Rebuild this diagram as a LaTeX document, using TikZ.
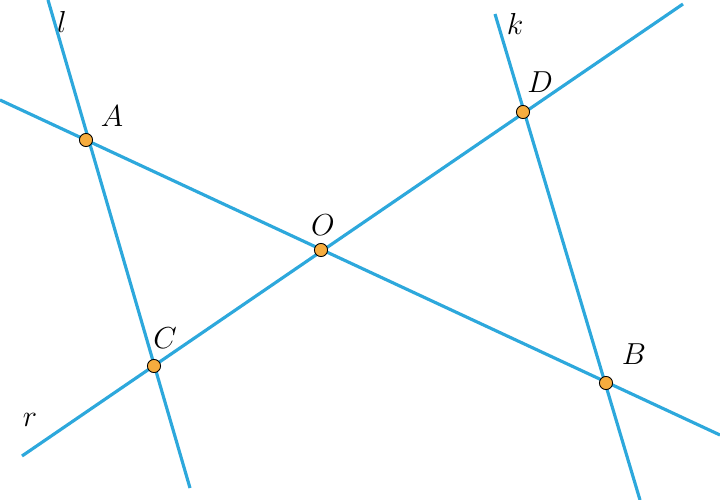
\documentclass[tikz,border=0pt]{standalone}
\usepackage{amsfonts, amsmath, amssymb}
\definecolor{lineblue}{RGB}{45,168,220}
\definecolor{ptorange}{RGB}{246,172,62}
\tikzset{
  ln/.style={lineblue, line width=1.8pt},
  pt/.style={circle, fill=ptorange, draw=black, line width=0.5pt, inner sep=0pt, minimum size=7.5pt}
}
\begin{document}
\begin{tikzpicture}[x=0.02cm, y=-0.02cm]
            \useasboundingbox (0,0) rectangle (720,500);

            \coordinate (l1) at (48,0);
            \coordinate (l2) at (190,488);
            \coordinate (k1) at (495,14);
            \coordinate (k2) at (640,500);
            \coordinate (ab1) at (0,100);
            \coordinate (ab2) at (720,435);
            \coordinate (r1) at (22,456);
            \coordinate (r2) at (683,4);

            \draw[ln] (l1) -- (l2);
            \draw[ln] (k1) -- (k2);
            \draw[ln] (ab1) -- (ab2);
            \draw[ln] (r1) -- (r2);

            \node[pt] (A) at (86,140) {};
            \node[pt] (O) at (321,250) {};
            \node[pt] (C) at (154,366) {};
            \node[pt] (D) at (523,112) {};
            \node[pt] (B) at (606,383) {};

            \node at (112,116) (la) {\LARGE$A$};
            \node at (323,225) (lo) {\LARGE$O$};
            \node at (165,338) (lc) {\LARGE$C$};
            \node at (540,82) (ld) {\LARGE$D$};
            \node at (634,354) (lb) {\LARGE$B$};
            \node at (62,22) (ll) {\LARGE$l$};
            \node at (515,24) (lk) {\LARGE$k$};
            \node at (30,420) (lr) {\LARGE$r$};
        \end{tikzpicture}
\end{document}
